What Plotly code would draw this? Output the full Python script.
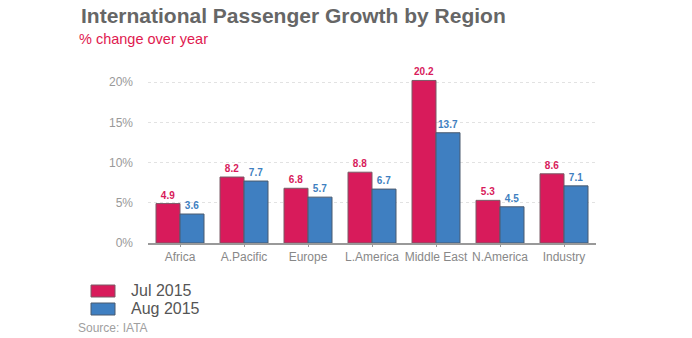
import plotly.graph_objects as go

# Regional international passenger growth, % change over year
regions = ["Africa", "A.Pacific", "Europe", "L.America", "Middle East", "N.America", "Industry"]
jul_2015 = [4.9, 8.2, 6.8, 8.8, 20.2, 5.3, 8.6]
aug_2015 = [3.6, 7.7, 5.7, 6.7, 13.7, 4.5, 7.1]
series_names = ["Jul 2015", "Aug 2015"]
y_ticks = [0, 5, 10, 15, 20]
y_tick_labels = ["0%", "5%", "10%", "15%", "20%"]

RED = "#D81B5B"
BLUE = "#3F7FC1"
COLORS = [RED, BLUE]
EDGES = ["#7a5a66", "#4a5a6e"]
FONT = "Liberation Sans, Arial, sans-serif"

W, H = 692, 338
L, R, T, B = 148, 96, 70, 95
PW, PH = W - L - R, H - T - B


def px_x(x):
    return (x - L) / PW


def px_y(y):
    return (H - B - y) / PH


fig = go.Figure()
for name, vals, col, edge in zip(series_names, [jul_2015, aug_2015], COLORS, EDGES):
    fig.add_trace(go.Bar(
        name=name, x=regions, y=vals,
        marker=dict(color=col, line=dict(color=edge, width=1)),
        text=[f"{v:.1f}" for v in vals], textposition="outside", constraintext="none",
        textfont=dict(color=col, size=10, family=FONT, weight="bold"), cliponaxis=False,
        showlegend=False,
    ))

# Legend drawn as swatches with labels beneath the chart
shapes = []
annotations = []
for i, (name, col, edge) in enumerate(zip(series_names, COLORS, EDGES)):
    top = 285 + i * 18
    shapes.append(dict(
        type="rect", xref="paper", yref="paper",
        x0=px_x(91), x1=px_x(115), y0=px_y(top), y1=px_y(top + 12),
        fillcolor=col, line=dict(color=edge, width=1),
    ))
    annotations.append(dict(
        text=name, xref="paper", yref="paper", x=px_x(129), y=px_y(top + 5),
        xanchor="left", yanchor="middle", showarrow=False,
        font=dict(size=16, color="#555555", family=FONT),
    ))

annotations += [
    dict(text="<b>International Passenger Growth by Region</b>", xref="paper", yref="paper",
         x=px_x(79), y=px_y(15), xanchor="left", yanchor="middle", showarrow=False,
         font=dict(size=21, color="#666666", family=FONT)),
    dict(text="% change over year", xref="paper", yref="paper",
         x=px_x(77), y=px_y(39), xanchor="left", yanchor="middle", showarrow=False,
         font=dict(size=14.5, color="#E0194F", family=FONT)),
    dict(text="Source: IATA", xref="paper", yref="paper",
         x=px_x(76), y=px_y(328), xanchor="left", yanchor="middle", showarrow=False,
         font=dict(size=12, color="#a0a0a0", family=FONT)),
]

fig.update_layout(
    width=W, height=H,
    margin=dict(l=L, r=R, t=T, b=B, autoexpand=False),
    paper_bgcolor="white", plot_bgcolor="white",
    font=dict(family=FONT, color="#888888"),
    barmode="group", bargap=0.25, bargroupgap=0,
    showlegend=False,
    shapes=shapes,
    annotations=annotations,
)
fig.update_xaxes(
    showline=True, linecolor="#999999", linewidth=2,
    ticks="outside", ticklen=2, tickcolor="#999999", tickangle=0,
    tickfont=dict(size=12, color="#888888"), showgrid=False,
)
fig.update_yaxes(
    range=[0, 21.5], tickvals=y_ticks, ticktext=y_tick_labels,
    showgrid=True, gridcolor="#e2e2e2", griddash="dot", gridwidth=1,
    zeroline=False, showline=False, ticks="", ticklabelstandoff=14,
    tickfont=dict(size=12, color="#999999"),
)

fig.write_html("out.html")
